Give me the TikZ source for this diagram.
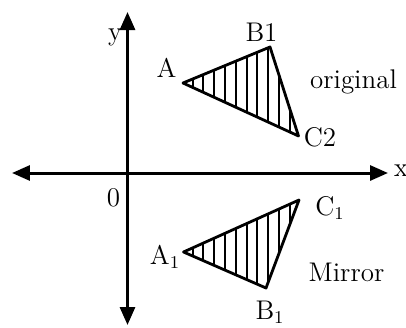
\documentclass[tikz,border=0pt]{standalone}
\usepackage{tikz}
\usetikzlibrary{arrows.meta}

\begin{document}
\begin{tikzpicture}[
        x=5pt, y=5pt,
        axis/.style={line width=1.5pt, {Triangle[length=9pt,width=7.5pt]}-{Triangle[length=9pt,width=7.5pt]}},
        tri/.style={line width=1.4pt, line join=round},
        hatch/.style={line width=1pt},
        lbl/.style={inner sep=0pt, font=\fontsize{13.5}{16}\selectfont},
    ]
        \useasboundingbox (-12.75,-15.4) rectangle (27.85,17.3);
        % axes
        \coordinate (xl) at (-11.55,0);
        \coordinate (xr) at (26.05,0);
        \coordinate (yt) at (0,16.1);
        \coordinate (yb) at (0,-15.2);
        \draw[axis] (xl) -- (xr);
        \draw[axis] (yt) -- (yb);
        \node[lbl] (xlab) at (27.35,0.2) {x};
        \node[lbl] (ylab) at (-1.25,13.6) {y};
        \node[lbl] (olab) at (-1.4,-2.5) {0};
        % original triangle
        \coordinate (a) at (5.55,9.0);
        \coordinate (b) at (14.25,12.6);
        \coordinate (c) at (17.1,3.7);
        \begin{scope}
            \clip (a) -- (b) -- (c) -- cycle;
            \foreach \i in {0,...,11}
                \draw[hatch] (6.5+1.08*\i,0) -- (6.5+1.08*\i,16);
        \end{scope}
        \draw[tri] (a) -- (b) -- (c) -- cycle;
        \node[lbl] (alab) at (3.9,10.5) {A};
        \node[lbl] (blab) at (13.4,14.1) {B1};
        \node[lbl] (clab) at (19.25,3.6) {C2};
        \node[lbl] (orig) at (22.6,9.1) {original};
        % mirror triangle
        \coordinate (a1) at (5.6,-7.9);
        \coordinate (b1) at (13.85,-11.5);
        \coordinate (c1) at (17.15,-2.7);
        \begin{scope}
            \clip (a1) -- (b1) -- (c1) -- cycle;
            \foreach \i in {0,...,11}
                \draw[hatch] (6.5+1.08*\i,-16) -- (6.5+1.08*\i,0);
        \end{scope}
        \draw[tri] (a1) -- (b1) -- (c1) -- cycle;
        \node[lbl] (a1lab) at (3.75,-8.4) {A$_1$};
        \node[lbl] (b1lab) at (14.25,-13.9) {B$_1$};
        \node[lbl] (c1lab) at (20.25,-3.5) {C$_1$};
        \node[lbl] (mirr) at (21.9,-9.9) {Mirror};
    \end{tikzpicture}
\end{document}
